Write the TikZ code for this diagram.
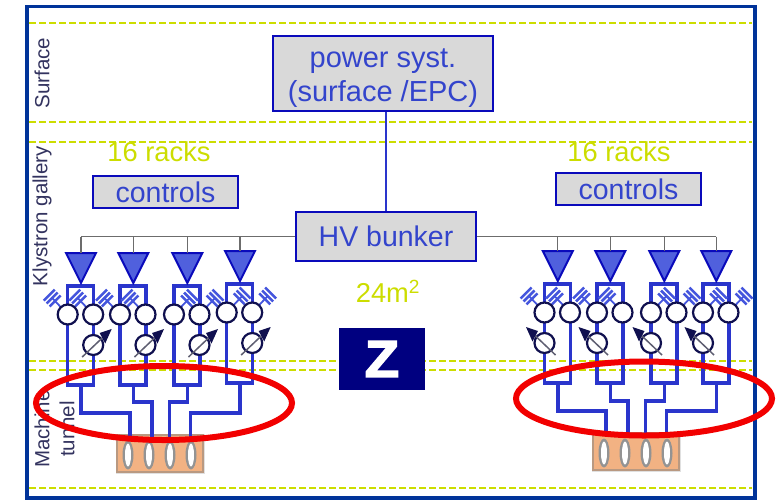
\documentclass[tikz,border=0pt]{standalone}
\usepackage{fontspec}
\setmainfont{Liberation Sans}
\newfontfamily\zfont[BoldFeatures={FakeBold=3,FakeStretch=1.08}]{Liberation Sans}
\usetikzlibrary{calc}
\definecolor{frameblue}{HTML}{003399}
\definecolor{linkblue}{HTML}{2A35CC}
\definecolor{boxblue}{HTML}{0A0ABB}
\definecolor{txtblue}{HTML}{3344CC}
\definecolor{triblue}{HTML}{5060DD}
\definecolor{hatchblue}{HTML}{4455DD}
\definecolor{navyd}{HTML}{10104F}
\definecolor{zfill}{HTML}{000080}
\definecolor{greenish}{HTML}{CCDD00}
\definecolor{labelc}{HTML}{33335F}
\definecolor{boxgrey}{HTML}{D9D9D9}
\definecolor{copper}{HTML}{F2B283}
\tikzset{
  x=1pt,y=-1pt,
  labelbox/.style={draw=boxblue,line width=2.8pt,fill=boxgrey,text=txtblue,inner sep=0pt,align=center,font=\fontsize{28.5}{34}\selectfont},
  boxtext/.style={text=txtblue,inner sep=0pt,align=center,font=\fontsize{29}{34}\selectfont},
  zonelabel/.style={rotate=90,text=labelc,inner sep=0pt,font=\fontsize{20.5}{22}\selectfont},
  greentext/.style={text=greenish,inner sep=0pt,font=\fontsize{27.3}{30}\selectfont},
  zoneline/.style={greenish,line width=2pt,dash pattern=on 7pt off 3pt},
  rfline/.style={linkblue,line width=3.5pt},
  busline/.style={gray!85!black,line width=1.3pt},
  circ/.style={circle,draw=navyd,fill=white,line width=2.2pt,minimum size=20pt,inner sep=0pt},
  hatchbar/.style={hatchblue,line width=2.5pt},
  stub/.style={hatchblue,line width=1.8pt},
  redring/.style={draw=red!95!black,line width=6pt},
}
% hatch at coordinate #1 with name #2, side #3 (-1 up-left, +1 up-right)
\newcommand{\hatched}[3]{%
  \coordinate (#2) at ($(#1)+(#3*15.5,-16.5)$);
  \draw[stub] (#1) -- (#2);
  \foreach \k in {-4.2,0,4.2}{
    \draw[hatchbar] ($(#2)+(#3*\k*0.7-5.5,\k*-0.7-#3*5.5)$) -- ($(#2)+(#3*\k*0.7+5.5,\k*-0.7+#3*5.5)$);
  }
}
% unit: #1 name, #2 left x, #3 top y, #4 hatch side, #5 leg offset of shifter, #6 arrow dir
\newcommand{\rfunit}[6]{%
  \coordinate (#1) at (#2,#3);
  \coordinate (#1top) at ($(#1)+(13.3,-33)$);
  \coordinate (#1tip) at ($(#1)+(13.3,-3)$);
  \coordinate (#1feed) at ($(#1)+(13.3,99)$);
  \coordinate (#1xa) at ($(#1)+(0,28.5)$);
  \coordinate (#1xb) at ($(#1)+(25.5,28.5)$);
  \draw[rfline] (#1) rectangle ++(26,99);
  \hatched{#1xa}{#1ha}{#4}
  \hatched{#1xb}{#1hb}{#4}
  \draw[boxblue,line width=2pt,fill=triblue,line join=miter] ($(#1top)+(-15,0)$) -- ($(#1top)+(15,0)$) -- (#1tip) -- cycle;
  \node[circ] (#1ca) at (#1xa) {};
  \node[circ] (#1cb) at (#1xb) {};
  \node[circ] (#1ps) at ($(#1)+(#5,59)$) {};
  \coordinate (#1pa) at ($(#1ps)+(#6*-11,12)$);
  \coordinate (#1pb) at ($(#1ps)+(#6*9,-7)$);
  \coordinate (#1pt) at ($(#1ps)+(#6*18.5,-16)$);
  \draw[gray!70!navyd,line width=1.5pt] (#1pa) -- (#1pb);
  \fill[navyd] (#1pt) -- ($(#1ps)+(#6*6.5,-12)$) -- ($(#1ps)+(#6*12,-1.5)$) -- cycle;
}
% cavity: #1 name, #2 left x, #3 top y
\newcommand{\cavity}[3]{%
  \coordinate (#1) at (#2,#3);
  \fill[gray!40,opacity=.6] ($(#1)+(-1.5,-1.5)$) rectangle ++(89,40);
  \draw[copper!50!gray,fill=copper,line width=1.4pt] (#1) rectangle ++(86,37);
  \foreach \dx in {11,32,53,74}{
    \fill[gray!85] ($(#1)+(\dx,20)$) ellipse [x radius=5.5,y radius=14.5];
    \fill[white] ($(#1)+(\dx,20)$) ellipse [x radius=3,y radius=11.5];
  }
  \coordinate (#1pone) at ($(#1)+(13,2)$);
  \coordinate (#1ptwo) at ($(#1)+(35,2)$);
  \coordinate (#1pthree) at ($(#1)+(52.5,2)$);
  \coordinate (#1pfour) at ($(#1)+(73.5,2)$);
}
\begin{document}
\begin{tikzpicture}
\useasboundingbox (0,0) rectangle (776,501);
% zones
\foreach \yy in {23,122,141.5,361,370,488}{
  \draw[zoneline] (29,\yy) -- (752,\yy);
}
% frame
\draw[frameblue,line width=3.8pt] (27,6.5) rectangle (755,498);
% labels
\node[zonelabel] (lsurf) at (42,73) {Surface};
\node[zonelabel] (lkly) at (42,216) {Klystron gallery};
\node[zonelabel] (lmach) at (42,429) {Machine};
\node[zonelabel] (ltun) at (67,429) {tunnel};
\node[greentext] (r1) at (159,152) {16 racks};
\node[greentext] (r2) at (619,152) {16 racks};
\node[greentext] (a24) at (388,291) {24m\textsuperscript{2}};
% boxes
\node[labelbox,minimum width=220pt,minimum height=75pt] (power) at (383,73.5) {};
\node[boxtext] (powertext) at (383,78.5) {power syst.\\(surface /EPC)};
\node[labelbox,minimum width=145pt,minimum height=32pt] (ctrlL) at (165.5,192) {controls};
\node[labelbox,minimum width=145pt,minimum height=32pt] (ctrlR) at (628.5,189) {controls};
\node[labelbox,minimum width=180pt,minimum height=49pt] (bunker) at (386,236.5) {HV bunker};
\draw[linkblue,line width=2.4pt] (power.south -| bunker.north) -- (bunker.north);
\node[fill=zfill,minimum width=86pt,minimum height=62pt,inner sep=0pt,text=white,font=\zfont\fontsize{52}{52}\selectfont\bfseries] (zbox) at (382,359) {Z};
% left group
\rfunit{a}{67.7}{286}{-1}{25.5}{1}
\rfunit{b}{120}{286}{-1}{25.5}{1}
\rfunit{c}{174}{286}{1}{25.5}{1}
\rfunit{d}{226.7}{284}{1}{25.5}{1}
% right group
\rfunit{e}{544.5}{284}{-1}{0}{-1}
\rfunit{f}{597}{284}{-1}{0}{-1}
\rfunit{g}{651}{284}{1}{0}{-1}
\rfunit{h}{703}{284}{1}{0}{-1}
% buses
\draw[busline] (bunker.west) -- (atop |- bunker.west);
\draw[busline] (bunker.east) -- (htop |- bunker.east);
\draw[busline] (atop |- bunker.west) -- (atop);
\draw[busline] (btop |- bunker.west) -- (btop);
\draw[busline] (ctop |- bunker.west) -- (ctop);
\draw[busline] (dtop |- bunker.west) -- (dtop);
\draw[busline] (etop |- bunker.east) -- (etop);
\draw[busline] (ftop |- bunker.east) -- (ftop);
\draw[busline] (gtop |- bunker.east) -- (gtop);
\draw[busline] (htop |- bunker.east) -- (htop);
% cavities
\cavity{cl}{117}{435}
\cavity{cr}{593}{433}
% feed levels
\coordinate (yla) at (0,413);
\coordinate (ylb) at (0,402);
\coordinate (yra) at (0,411);
\coordinate (yrb) at (0,401);
\draw[rfline] (afeed) |- (clpone |- yla) -- (clpone);
\draw[rfline] (bfeed) |- (clptwo |- ylb) -- (clptwo);
\draw[rfline] (cfeed) |- (clpthree |- ylb) -- (clpthree);
\draw[rfline] (dfeed) |- (clpfour |- yla) -- (clpfour);
\draw[rfline] (efeed) |- (crpone |- yra) -- (crpone);
\draw[rfline] (ffeed) |- (crptwo |- yrb) -- (crptwo);
\draw[rfline] (gfeed) |- (crpthree |- yrb) -- (crpthree);
\draw[rfline] (hfeed) |- (crpfour |- yra) -- (crpfour);
% red rings
\draw[redring] (164,403) ellipse [x radius=128,y radius=37];
\draw[redring] (644,398.5) ellipse [x radius=128,y radius=37];
\end{tikzpicture}
\end{document}
